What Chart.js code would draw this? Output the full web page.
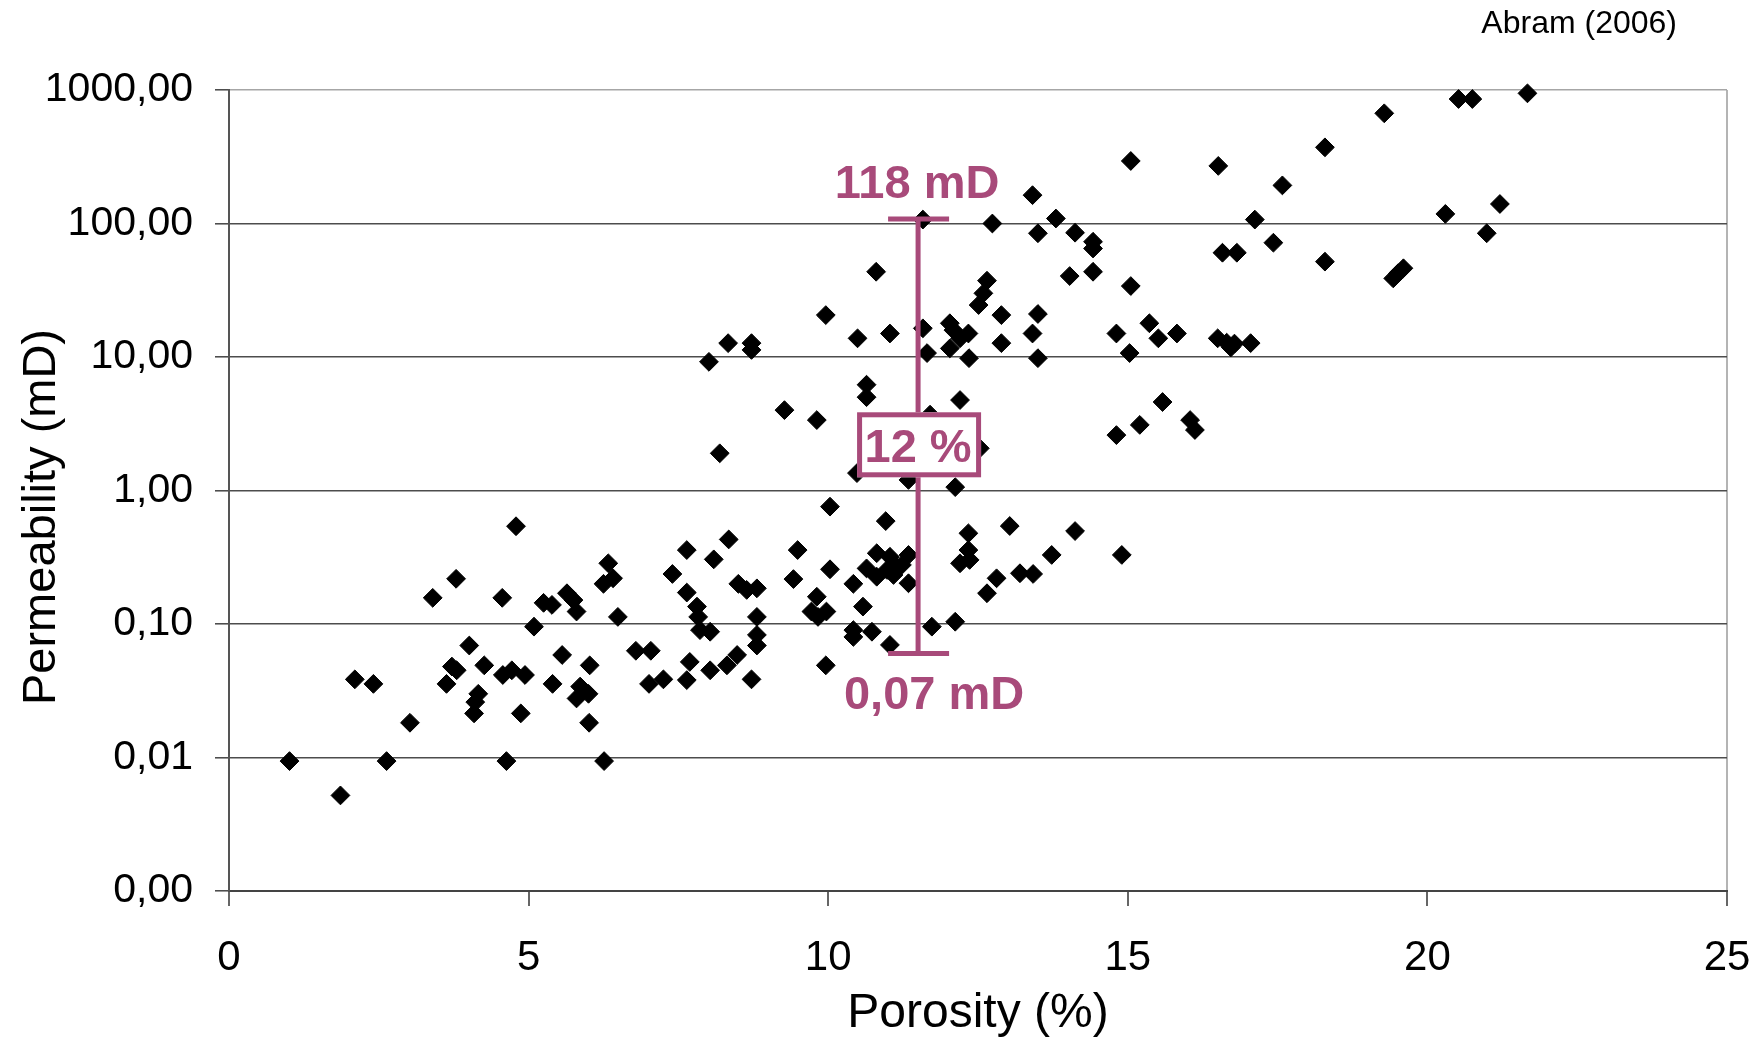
<!DOCTYPE html>
<html>
<head>
<meta charset="utf-8">
<script src="https://cdn.jsdelivr.net/npm/chart.js@4.4.1/dist/chart.umd.min.js"></script>
<style>
  html, body { margin: 0; padding: 0; background: #ffffff; }
  #wrap { width: 1762px; height: 1043px; position: relative; }
</style>
</head>
<body>
<div id="wrap"><canvas id="c" width="1762" height="1043"></canvas></div>
<script>
// ---------------- data ----------------
const porosity = [
  1.01, 1.86, 2.10, 2.41, 2.63, 3.02, 3.40, 3.79, 3.63, 3.72, 3.80, 4.01, 4.26, 4.16, 4.11, 4.09,
  4.56, 4.57, 4.72, 4.94, 4.63, 4.79, 4.87, 5.09, 5.25, 5.39, 5.64, 5.75, 5.80, 5.40, 5.56, 6.02,
  5.86, 6.00, 5.80, 6.01, 6.26, 6.33, 6.41, 6.25, 6.49, 6.79, 7.04, 7.01, 7.25, 7.40, 7.64, 7.64,
  7.81, 7.83, 7.86, 8.03, 7.64, 7.69, 8.03, 8.31, 8.09, 8.34, 8.50, 8.64, 8.81, 8.81, 8.81, 8.81,
  8.48, 8.72, 9.49, 9.42, 9.81, 9.72, 9.97, 9.83, 9.96, 10.03, 10.03, 10.42, 10.58, 10.42, 10.42, 10.73,
  10.96, 11.03, 10.64, 10.81, 10.81, 10.98, 11.03, 11.14, 11.09, 11.23, 11.34, 11.34, 11.73, 12.12, 12.12, 12.34,
  12.34, 12.20, 12.36, 12.65, 12.81, 13.03, 13.20, 13.42, 13.73, 14.12, 14.90,
  8.01, 8.33, 8.72, 8.72, 8.19, 9.27, 9.81, 9.96, 10.49, 10.64, 10.64, 10.48, 10.80, 11.03, 11.34, 11.58,
  11.58, 11.65, 11.70, 12.03, 12.09, 12.03, 12.20, 12.20, 12.34, 12.35, 12.51, 12.59, 12.65, 12.53, 12.74, 12.89,
  12.89, 13.41, 13.41, 13.50, 13.50, 13.50, 13.80, 14.03, 14.12, 14.42, 14.42, 14.42, 14.81, 14.81, 15.03, 15.05,
  15.05, 15.20, 15.36, 15.51, 15.58, 15.82, 16.04, 16.12, 16.51, 16.50, 16.65, 16.72, 16.78, 17.05, 16.58, 16.82,
  17.12, 17.43, 17.58, 18.29, 18.29, 19.28, 19.43, 19.51, 19.60, 20.30, 20.52, 20.75, 20.99, 21.21, 21.67
];
const permeability = [
  0.0094, 0.0052, 0.0385, 0.0356, 0.0094, 0.0182, 0.157, 0.218, 0.0356, 0.048, 0.045, 0.069, 0.049, 0.030, 0.026, 0.0214,
  0.157, 0.0415, 0.045, 0.0415, 0.0094, 0.54, 0.0214, 0.0955, 0.144, 0.139, 0.17, 0.151, 0.124, 0.0356, 0.0586, 0.049,
  0.034, 0.030, 0.0277, 0.0182, 0.0094, 0.285, 0.22, 0.20, 0.113, 0.063, 0.063, 0.0356, 0.0385, 0.237, 0.358, 0.172,
  0.135, 0.113, 0.090, 0.0875, 0.038, 0.052, 0.045, 0.049, 0.305, 0.43, 0.20, 0.18, 0.185, 0.113, 0.0828, 0.069,
  0.0586, 0.0385, 0.358, 0.217, 0.16, 0.124, 0.124, 0.113, 0.049, 0.757, 0.257, 0.20, 0.135, 0.09, 0.080, 0.0875,
  0.59, 0.0697, 0.261, 0.339, 0.226, 0.254, 0.319, 0.268, 0.233, 0.277, 0.329, 0.202, 0.0955, 0.104, 1.06, 0.478,
  0.358, 0.285, 0.302, 0.17, 0.22, 0.542, 0.24, 0.237, 0.329, 0.497, 0.329,
  9.2, 12.7, 12.7, 11.3, 1.9, 4.0, 3.37, 20.6, 13.8, 6.2, 5.0, 1.35, 43.5, 15.0, 1.2, 107,
  16.4, 10.7, 3.7, 17.9, 15.9, 11.6, 13.8, 4.76, 15.0, 9.8, 24.5, 30, 37.3, 2.07, 100, 20.6,
  12.7, 163, 15.0, 84.5, 21, 9.8, 109, 40.4, 85.3, 73, 65, 43.5, 15.0, 2.6, 10.7, 294,
  34, 3.1, 17.9, 13.8, 4.6, 15.0, 3.37, 2.84, 270, 13.8, 12.8, 11.8, 12.6, 12.7, 60.4, 60.4,
  107, 71.8, 193, 372, 51.8, 669, 38.8, 42.4, 46.2, 118, 856, 856, 84.5, 140, 944
];

const xTickValues = [0, 5, 10, 15, 20, 25];
const xTickLabels = ['0', '5', '10', '15', '20', '25'];
const yTickValues = [0.001, 0.01, 0.1, 1, 10, 100, 1000];
const yTickLabels = ['0,00', '0,01', '0,10', '1,00', '10,00', '100,00', '1000,00'];

// range annotation (magenta)
const rangeX = 11.5;          // porosity of the marked range
const rangeTop = 108;         // upper end of bar (mD)
const rangeBottom = 0.06;     // lower end of bar (mD)
const rangeBoxY = 2.2;        // centre of the "12 %" box (mD)
const rangeTexts = ['118 mD', '12 %', '0,07 mD'];

const xTitle = 'Porosity (%)';
const yTitle = 'Permeability (mD)';
const sourceNote = 'Abram (2006)';

// ---------------- chart ----------------
const FONT = "'Liberation Sans', Arial, sans-serif";
const MAGENTA = '#a84a7a';

const points = porosity.map((x, i) => ({ x: x, y: permeability[i] }));

const overlay = {
  id: 'overlay',
  afterDatasetsDraw(chart) {
    const ctx = chart.ctx;
    const xs = chart.scales.x, ys = chart.scales.y;
    const px = xs.getPixelForValue(rangeX);
    const pTop = ys.getPixelForValue(rangeTop);
    const pBot = ys.getPixelForValue(rangeBottom);
    const pBox = ys.getPixelForValue(rangeBoxY);
    ctx.save();
    ctx.strokeStyle = MAGENTA;
    ctx.fillStyle = MAGENTA;
    ctx.lineWidth = 5;
    ctx.beginPath();
    ctx.moveTo(px, pTop); ctx.lineTo(px, pBot);
    ctx.moveTo(px - 30, pTop); ctx.lineTo(px + 31, pTop);
    ctx.moveTo(px - 30, pBot); ctx.lineTo(px + 31, pBot);
    ctx.stroke();
    // box
    const bw = 124, bh = 65;
    const bx = px - 61, by = pBox - bh / 2;
    ctx.fillStyle = '#ffffff';
    ctx.fillRect(bx, by, bw, bh);
    ctx.strokeRect(bx + 2.5, by + 2.5, bw - 5, bh - 5);
    ctx.fillStyle = MAGENTA;
    ctx.font = 'bold 47px ' + FONT;
    ctx.textAlign = 'center';
    ctx.textBaseline = 'alphabetic';
    ctx.fillText(rangeTexts[0], px - 1, pTop - 21);
    ctx.fillText(rangeTexts[1], px, pBox + 17);
    ctx.fillText(rangeTexts[2], px + 16, pBot + 55);
    ctx.restore();
  },
  afterDraw(chart) {
    const ctx = chart.ctx;
    ctx.save();
    ctx.fillStyle = '#000000';
    // source note
    ctx.font = '32px ' + FONT;
    ctx.textAlign = 'right';
    ctx.textBaseline = 'alphabetic';
    ctx.fillText(sourceNote, 1677, 33);
    // y axis title
    ctx.translate(55, 517);
    ctx.rotate(-Math.PI / 2);
    ctx.font = '47px ' + FONT;
    ctx.textAlign = 'center';
    ctx.fillText(yTitle, 0, 0);
    ctx.restore();
  }
};

new Chart(document.getElementById('c'), {
  type: 'scatter',
  data: {
    datasets: [{
      data: points,
      pointStyle: 'rectRot',
      pointRadius: 9.4,
      pointHoverRadius: 9.4,
      backgroundColor: '#000000',
      borderColor: '#000000',
      borderWidth: 1,
      clip: false
    }]
  },
  options: {
    responsive: false,
    animation: false,
    events: [],
    layout: { autoPadding: false, padding: { top: 90, right: 35, left: 0, bottom: 0 } },
    plugins: { legend: { display: false }, tooltip: { enabled: false } },
    scales: {
      x: {
        type: 'linear',
        min: 0, max: 25,
        afterFit(scale) { scale.height = 152; },
        afterBuildTicks(scale) { scale.ticks = xTickValues.map(v => ({ value: v })); },
        ticks: {
          autoSkip: false,
          maxRotation: 0,
          padding: 0,
          color: '#000000',
          font: { family: FONT, size: 42, lineHeight: 2.476 },
          callback: (v, i) => xTickLabels[i]
        },
        grid: {
          drawOnChartArea: true,
          color: c => (c.tick && c.tick.value === 25) ? '#b4b4b4' : 'rgba(0,0,0,0)',
          lineWidth: 2,
          tickColor: '#333333',
          tickLength: 15,
          tickWidth: 1.5
        },
        border: { display: true, color: '#444444', width: 2 },
        title: {
          display: true,
          text: xTitle,
          color: '#000000',
          font: { family: FONT, size: 48 },
          padding: { top: 0, bottom: 0 }
        }
      },
      y: {
        type: 'logarithmic',
        min: 0.001, max: 1000,
        afterFit(scale) { scale.width = 229; },
        afterBuildTicks(scale) { scale.ticks = yTickValues.map(v => ({ value: v })); },
        ticks: {
          autoSkip: false,
          padding: 22,
          color: '#000000',
          font: { family: FONT, size: 41 },
          callback: (v, i) => yTickLabels[i]
        },
        grid: {
          color: c => (c.tick && c.tick.value === 1000) ? '#a6a6a6' : '#4d4d4d',
          lineWidth: 1.6,
          tickColor: '#444444',
          tickLength: 14,
          tickWidth: 1.5
        },
        border: { display: true, color: '#555555', width: 2 }
      }
    }
  },
  plugins: [overlay]
});
</script>
</body>
</html>
